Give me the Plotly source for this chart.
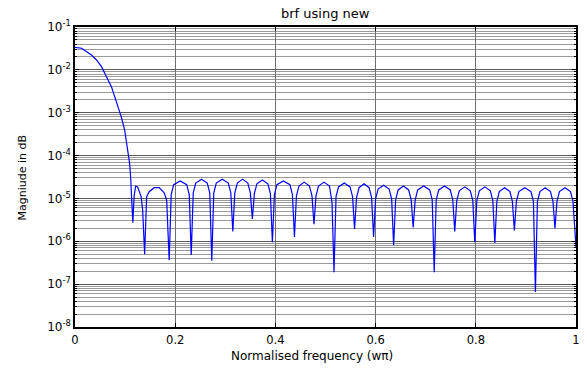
import plotly.graph_objects as go

# Normalised frequency (x pi) and magnitude
freq = [
    0.0, 0.0133, 0.0232, 0.0331, 0.043, 0.0529, 0.0594, 0.066, 0.0727, 0.0792,
    0.0857, 0.0925, 0.099, 0.1055, 0.109, 0.111, 0.1135, 0.1154,
    0.118, 0.121, 0.125, 0.132, 0.135, 0.137, 0.139,
    0.143, 0.1485, 0.158, 0.168, 0.178, 0.183, 0.188,
    0.192, 0.197, 0.210, 0.223, 0.228, 0.232,
    0.236, 0.241, 0.2525, 0.264, 0.269, 0.273,
    0.277, 0.282, 0.294, 0.306, 0.311, 0.315,
    0.319, 0.324, 0.3345, 0.345, 0.350, 0.354,
    0.358, 0.363, 0.374, 0.385, 0.390, 0.394,
    0.398, 0.403, 0.416, 0.429, 0.434, 0.438,
    0.442, 0.447, 0.4575, 0.468, 0.473, 0.477,
    0.481, 0.486, 0.497, 0.508, 0.513, 0.517,
    0.521, 0.526, 0.5375, 0.549, 0.554, 0.558,
    0.562, 0.567, 0.577, 0.587, 0.592, 0.596,
    0.600, 0.605, 0.616, 0.627, 0.632, 0.636,
    0.640, 0.645, 0.6555, 0.666, 0.671, 0.675,
    0.679, 0.684, 0.696, 0.708, 0.713, 0.717,
    0.721, 0.726, 0.7375, 0.749, 0.754, 0.758,
    0.762, 0.767, 0.778, 0.789, 0.794, 0.798,
    0.802, 0.807, 0.818, 0.829, 0.834, 0.838,
    0.842, 0.847, 0.8575, 0.868, 0.873, 0.877,
    0.881, 0.886, 0.898, 0.910, 0.915, 0.919,
    0.923, 0.928, 0.9385, 0.949, 0.954, 0.958,
    0.962, 0.967, 0.978, 0.989, 0.994, 1.0,
]

magnitude = [
    3.36e-2, 3.19e-2, 2.65e-2, 2.22e-2, 1.70e-2, 1.19e-2, 8.3e-3, 5.8e-3, 4.05e-3, 2.37e-3,
    1.38e-3, 7.9e-4, 4.0e-4, 1.35e-4, 6.6e-5, 3.2e-5, 1.1e-5, 2.7e-6,
    1.12e-5, 1.95e-5, 1.86e-5, 1.10e-5, 5.4e-6, 1.8e-6, 5.0e-7,
    1.10e-5, 1.45e-5, 1.78e-5, 1.78e-5, 1.35e-5, 9.1e-6, 3.6e-7,
    1.23e-5, 2.09e-5, 2.57e-5, 2.09e-5, 1.23e-5, 4.8e-7,
    1.35e-5, 2.29e-5, 2.82e-5, 2.29e-5, 1.35e-5, 3.5e-7,
    1.35e-5, 2.29e-5, 2.82e-5, 2.29e-5, 1.35e-5, 1.7e-6,
    1.35e-5, 2.29e-5, 2.82e-5, 2.29e-5, 1.35e-5, 3.3e-6,
    1.29e-5, 2.19e-5, 2.69e-5, 2.19e-5, 1.29e-5, 9.5e-7,
    1.23e-5, 2.09e-5, 2.57e-5, 2.09e-5, 1.23e-5, 1.26e-6,
    1.15e-5, 1.95e-5, 2.40e-5, 1.95e-5, 1.15e-5, 2.5e-6,
    1.15e-5, 1.95e-5, 2.40e-5, 1.95e-5, 8.0e-6, 1.9e-7,
    1.10e-5, 1.86e-5, 2.29e-5, 1.86e-5, 1.10e-5, 1.95e-6,
    1.05e-5, 1.78e-5, 2.19e-5, 1.78e-5, 1.05e-5, 1.26e-6,
    9.8e-6, 1.66e-5, 2.04e-5, 1.66e-5, 9.8e-6, 8.1e-7,
    9.3e-6, 1.58e-5, 1.95e-5, 1.58e-5, 9.3e-6, 2.1e-6,
    9.3e-6, 1.58e-5, 1.95e-5, 1.58e-5, 9.3e-6, 1.9e-7,
    9.3e-6, 1.58e-5, 1.95e-5, 1.58e-5, 9.3e-6, 1.7e-6,
    8.9e-6, 1.51e-5, 1.86e-5, 1.51e-5, 8.9e-6, 9.5e-7,
    8.9e-6, 1.51e-5, 1.86e-5, 1.51e-5, 8.9e-6, 9.1e-7,
    8.5e-6, 1.45e-5, 1.78e-5, 1.45e-5, 8.5e-6, 1.8e-6,
    8.5e-6, 1.45e-5, 1.78e-5, 1.45e-5, 8.5e-6, 6.6e-8,
    8.5e-6, 1.45e-5, 1.78e-5, 1.45e-5, 8.5e-6, 2.0e-6,
    8.5e-6, 1.45e-5, 1.78e-5, 1.45e-5, 8.5e-6, 7.4e-7,
]

x_ticks = [0, 0.2, 0.4, 0.6, 0.8, 1]
x_tick_labels = ["0", "0.2", "0.4", "0.6", "0.8", "1"]
y_ticks = [1e-8, 1e-7, 1e-6, 1e-5, 1e-4, 1e-3, 1e-2, 1e-1]
y_tick_labels = ["10<sup>-8</sup>", "10<sup>-7</sup>", "10<sup>-6</sup>", "10<sup>-5</sup>",
                 "10<sup>-4</sup>", "10<sup>-3</sup>", "10<sup>-2</sup>", "10<sup>-1</sup>"]

FONT = "DejaVu Sans, Arial, sans-serif"

fig = go.Figure()
fig.add_trace(go.Scatter(x=freq, y=magnitude, mode="lines",
                         line=dict(color="#0000ff", width=1.2), showlegend=False))

fig.update_layout(
    width=587, height=369,
    margin=dict(l=75, r=7, t=27, b=42),
    paper_bgcolor="white", plot_bgcolor="white",
    font=dict(family=FONT, size=12, color="black"),
    annotations=[
        dict(text="brf using new", xref="paper", yref="paper", x=0.5, y=1.045,
             xanchor="center", yanchor="middle", showarrow=False,
             font=dict(family=FONT, size=13, color="black")),
        dict(text="Normalised frequency (w\u03c0)", xref="paper", yref="paper", x=0.473, y=-0.095,
             xanchor="center", yanchor="middle", showarrow=False,
             font=dict(family=FONT, size=12, color="black")),
        dict(text="Magniude in dB", xref="paper", yref="paper", x=-0.105, y=0.5,
             xanchor="center", yanchor="middle", showarrow=False, textangle=-90,
             font=dict(family=FONT, size=11, color="black")),
    ],
)

fig.update_xaxes(
    range=[0, 1], tickvals=x_ticks, ticktext=x_tick_labels,
    showline=True, linecolor="black", linewidth=1.5, mirror="allticks",
    ticks="inside", ticklen=4, tickcolor="black",
    showgrid=True, gridcolor="#6e6e6e", gridwidth=1,
    zeroline=False, ticklabelstandoff=1,
    tickfont=dict(family=FONT, size=11.5),
)

fig.update_yaxes(
    type="log", range=[-8, -1], tickvals=y_ticks, ticktext=y_tick_labels,
    showline=True, linecolor="black", linewidth=1.5, mirror="allticks",
    ticks="inside", ticklen=4, tickcolor="black",
    showgrid=True, gridcolor="#5a5a5a", gridwidth=1,
    minor=dict(dtick="D1", showgrid=True, gridcolor="#9a9a9a", gridwidth=1,
               ticks="inside", ticklen=2, tickcolor="black"),
    zeroline=False,
    tickfont=dict(family=FONT, size=12),
)

fig.write_html("out.html")
